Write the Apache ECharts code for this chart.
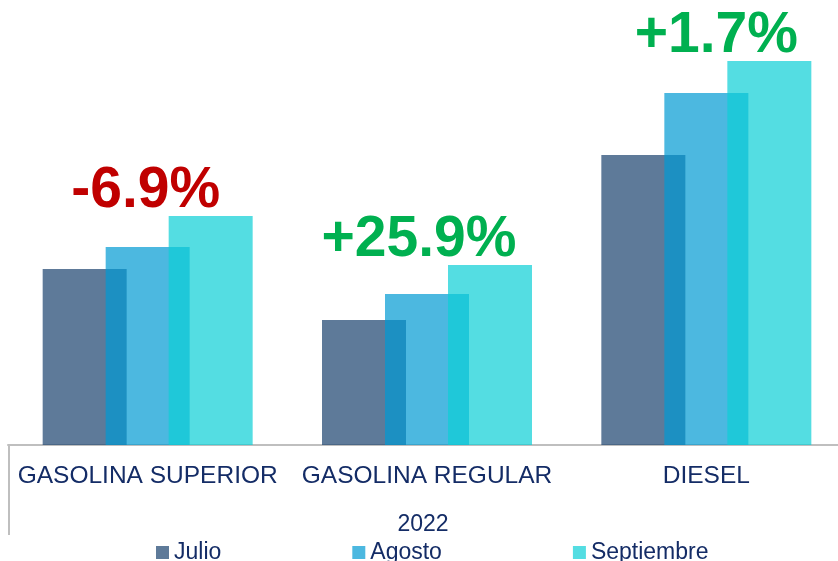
<!DOCTYPE html>
<html>
<head>
    <meta charset="utf-8">
    <title>Combustibles 2022</title>
    <script src="https://cdn.jsdelivr.net/npm/echarts@6/dist/echarts.min.js"></script>
    <style>
        html, body { margin: 0; padding: 0; background: #fff; }
        #chart { width: 838px; height: 561px; }
    </style>
</head>
<body>
<div id="chart"></div>
<script>
    // datos (alturas relativas)
    var categorias = ['GASOLINA SUPERIOR', 'GASOLINA REGULAR', 'DIESEL'];
    var julio = [176, 125, 290];
    var agosto = [198, 151, 352];
    var septiembre = [229, 180, 384];
    var variacion = ['-6.9%', '+25.9%', '+1.7%'];
    var anio = '2022';

    var azulTexto = '#142C66';
    // desplazamiento horizontal de cada etiqueta de variacion
    var desplazaEtiqueta = [-65, -71, -53];

    var chart = echarts.init(document.getElementById('chart'));

    var option = {
        animation: false,
        // el area del grafico sigue un poco mas alla del borde derecho
        grid: { left: 8, width: 838, top: 45, bottom: 116, outerBoundsMode: 'none' },
        legend: {
            left: 151,
            top: 536,
            itemWidth: 13,
            itemHeight: 13,
            itemGap: 131,
            icon: 'rect',
            textStyle: { color: azulTexto, fontSize: 23, fontFamily: 'Liberation Sans' },
            data: ['Julio', 'Agosto', 'Septiembre']
        },
        xAxis: {
            type: 'category',
            data: categorias,
            name: anio,
            nameLocation: 'middle',
            nameGap: 68,
            nameTextStyle: { color: azulTexto, fontSize: 23, fontFamily: 'Liberation Sans', padding: [0, 8, 0, 0] },
            axisLine: { lineStyle: { color: '#BFBFBF', width: 2 } },
            axisTick: { show: false },
            axisLabel: { color: azulTexto, fontSize: 24.5, fontFamily: 'Liberation Sans', margin: 19, interval: 0 }
        },
        yAxis: {
            type: 'value',
            min: 0,
            max: 400,
            show: false,
            splitLine: { show: false }
        },
        graphic: [{
            type: 'line',
            shape: { x1: 9, y1: 445, x2: 9, y2: 535 },
            style: { stroke: '#BFBFBF', lineWidth: 2 }
        }],
        series: [{
            name: 'Julio',
            type: 'bar',
            data: julio,
            barWidth: 84,
            barGap: '-25%',
            itemStyle: { color: 'rgba(26,65,109,0.7)' }
        }, {
            name: 'Agosto',
            type: 'bar',
            data: agosto,
            barWidth: 84,
            barGap: '-25%',
            itemStyle: { color: 'rgba(0,154,211,0.7)' }
        }, {
            name: 'Septiembre',
            type: 'bar',
            data: septiembre.map(function (v, i) {
                return { value: v, label: { offset: [desplazaEtiqueta[i], 4] } };
            }),
            barWidth: 84,
            barGap: '-25%',
            itemStyle: { color: 'rgba(12,206,214,0.7)' },
            label: {
                show: true,
                position: 'top',
                distance: 0,
                formatter: function (p) {
                    var t = variacion[p.dataIndex];
                    return (t.charAt(0) === '-' ? '{neg|' : '{pos|') + t + '}';
                },
                rich: {
                    neg: { color: '#C00000', fontSize: 57, fontWeight: 'bold', fontFamily: 'Liberation Sans' },
                    pos: { color: '#00B050', fontSize: 57, fontWeight: 'bold', fontFamily: 'Liberation Sans' }
                }
            }
        }]
    };

    chart.setOption(option);
</script>
</body>
</html>
